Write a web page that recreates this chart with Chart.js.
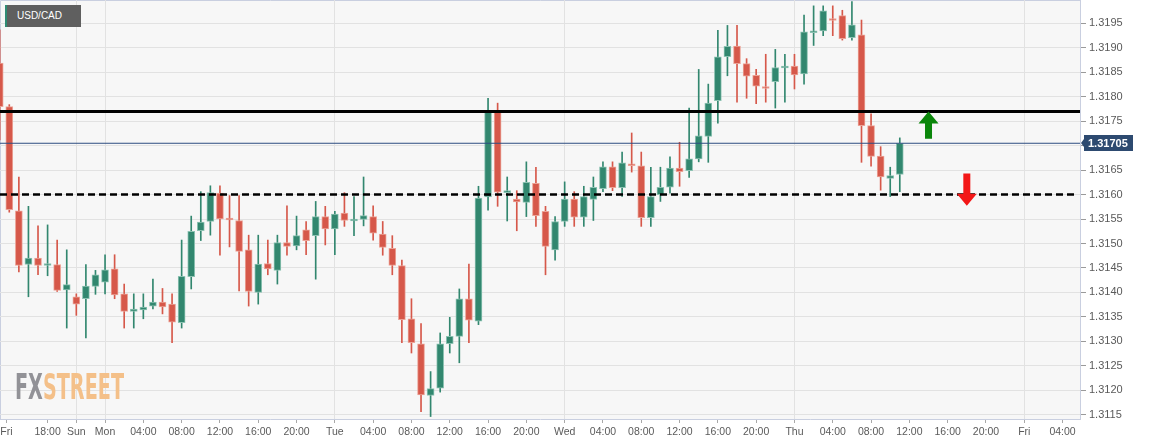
<!DOCTYPE html>
<html>
<head>
<meta charset="utf-8">
<script src="https://cdn.jsdelivr.net/npm/chart.js@4.4.0/dist/chart.umd.min.js"></script>
<style>
  body { margin: 0; background: #fff; }
  #wrap { position: relative; width: 1150px; height: 445px; }
  #badge {
    position: absolute; left: 5px; top: 5px; width: 76px; height: 22px;
    box-sizing: border-box; padding-left: 10px;
    background: #5f5f5f; border-left: 2px solid #2f8b74;
    color: #fff; font: 10px 'Liberation Sans', Arial, sans-serif; line-height: 22px;
  }
  #logo {
    position: absolute; left: 15px; top: 369px; white-space: nowrap;
    font: bold 36px 'DejaVu Sans Condensed', 'DejaVu Sans', sans-serif; line-height: 36px;
    transform-origin: left top; pointer-events: none;
  }
  #logo .fx { color: #929297; }
  #logo .st { color: #f4c089; }
</style>
</head>
<body>
<div id="wrap">
  <canvas id="myChart" width="1150" height="445"></canvas>
  <div id="badge">USD/CAD</div>
  <div id="logo"><span class="fx">FX</span><span class="st">STREET</span></div>
</div>
<script>
// hourly candles, Fri 13:00 -> Thu 11:00 (weekend gap removed)
const opens = [1.31869,1.31780,1.31567,1.31457,1.31470,1.31455,1.31457,1.31405,1.31391,1.31387,
  1.31412,1.31421,1.31448,1.31397,1.31361,1.31364,1.31372,1.31380,1.31376,1.31338,
  1.31432,1.31526,1.31545,1.31603,1.31551,1.31547,1.31487,1.31400,1.31459,1.31445,
  1.31502,1.31495,1.31528,1.31516,1.31555,1.31530,1.31562,1.31546,1.31549,1.31555,
  1.31519,1.31490,1.31455,1.31346,1.31295,1.31189,1.31204,1.31295,1.31310,1.31387,
  1.31341,1.31595,1.31770,1.31604,1.31591,1.31584,1.31623,1.31566,1.31487,1.31545,
  1.31591,1.31554,1.31590,1.31612,1.31657,1.31614,1.31663,1.31659,1.31553,1.31600,
  1.31615,1.31654,1.31649,1.31673,1.31719,1.31792,1.31882,1.31904,1.31868,1.31844,
  1.31821,1.31831,1.31859,1.31863,1.31847,1.31931,1.31935,1.31957,1.31966,1.31921,
  1.31927,1.31741,1.31679,1.31633,1.31641];
const highs = [1.31937,1.31784,1.31636,1.31576,1.31536,1.31538,1.31507,1.31487,1.31397,1.31457,
  1.31445,1.31477,1.31477,1.31417,1.31397,1.31397,1.31427,1.31408,1.31397,1.31507,
  1.31556,1.31606,1.31618,1.31618,1.31598,1.31598,1.31517,1.31517,1.31507,1.31517,
  1.31577,1.31556,1.31545,1.31586,1.31576,1.31566,1.31604,1.31596,1.31636,1.31577,
  1.31545,1.31516,1.31466,1.31387,1.31336,1.31238,1.31317,1.31349,1.31407,1.31458,
  1.31617,1.31797,1.31787,1.31636,1.31608,1.31667,1.31656,1.31576,1.31555,1.31626,
  1.31606,1.31617,1.31636,1.31667,1.31667,1.31687,1.31726,1.31687,1.31656,1.31656,
  1.31677,1.31707,1.31777,1.31856,1.31826,1.31936,1.31946,1.31946,1.31878,1.31856,
  1.31887,1.31897,1.31887,1.31887,1.31967,1.31986,1.31986,1.31986,1.31977,1.31995,
  1.31957,1.31765,1.31698,1.31656,1.31716];
const lows = [1.31712,1.31564,1.31442,1.31391,1.31436,1.31434,1.31402,1.31327,1.31353,1.31307,
  1.31396,1.31397,1.31387,1.31327,1.31327,1.31346,1.31366,1.31356,1.31297,1.31327,
  1.31407,1.31506,1.31517,1.31476,1.31493,1.31403,1.31372,1.31376,1.31436,1.31417,
  1.31476,1.31487,1.31477,1.31427,1.31497,1.31477,1.31535,1.31516,1.31536,1.31507,
  1.31476,1.31436,1.31297,1.31276,1.31156,1.31146,1.31196,1.31276,1.31256,1.31297,
  1.31334,1.31568,1.31576,1.31546,1.31526,1.31555,1.31535,1.31436,1.31466,1.31535,
  1.31535,1.31535,1.31547,1.31606,1.31608,1.31596,1.31646,1.31535,1.31535,1.31586,
  1.31603,1.31617,1.31635,1.31667,1.31666,1.31746,1.31843,1.31789,1.31797,1.31786,
  1.31789,1.31777,1.31789,1.31816,1.31826,1.31905,1.31925,1.31925,1.31916,1.31916,
  1.31666,1.31658,1.31609,1.31596,1.31606];
const closes = [1.31780,1.31569,1.31455,1.31470,1.31455,1.31459,1.31404,1.31416,1.31376,1.31413,
  1.31436,1.31446,1.31395,1.31361,1.31366,1.31370,1.31380,1.31370,1.31339,1.31433,
  1.31525,1.31544,1.31604,1.31550,1.31548,1.31484,1.31402,1.31458,1.31448,1.31502,
  1.31494,1.31516,1.31506,1.31555,1.31530,1.31560,1.31547,1.31549,1.31557,1.31521,
  1.31492,1.31455,1.31344,1.31297,1.31190,1.31203,1.31295,1.31310,1.31387,1.31343,
  1.31593,1.31770,1.31605,1.31606,1.31585,1.31625,1.31557,1.31494,1.31545,1.31591,
  1.31554,1.31596,1.31615,1.31657,1.31614,1.31665,1.31659,1.31553,1.31596,1.31615,
  1.31654,1.31647,1.31673,1.31720,1.31787,1.31882,1.31903,1.31868,1.31842,1.31822,
  1.31817,1.31860,1.31862,1.31845,1.31933,1.31933,1.31976,1.31956,1.31919,1.31947,
  1.31741,1.31678,1.31636,1.31639,1.31705];

const tickHours = [0.7, 5, 8, 11, 15, 19, 23, 27, 31, 35, 39, 43, 47, 51, 55,
  59, 63, 67, 71, 75, 79, 83, 87, 91, 95, 99, 103, 107, 111];
const tickLabels = ['Fri', '18:00', 'Sun', 'Mon', '04:00', '08:00', '12:00', '16:00', '20:00',
  'Tue', '04:00', '08:00', '12:00', '16:00', '20:00',
  'Wed', '04:00', '08:00', '12:00', '16:00', '20:00',
  'Thu', '04:00', '08:00', '12:00', '16:00', '20:00', 'Fri', '04:00'];
const dayHours = [8, 11, 35, 59, 83, 107];
const priceTicks = [1.3115, 1.3120, 1.3125, 1.3130, 1.3135, 1.3140, 1.3145, 1.3150, 1.3155,
  1.3160, 1.3165, 1.3170, 1.3175, 1.3180, 1.3185, 1.3190, 1.3195];

const resistance = 1.3177;
const support = 1.3160;
const lastPrice = 1.31705;
const upArrow = { hour: 97, from: 1.31714, to: 1.3177 };
const downArrow = { hour: 101, from: 1.31643, to: 1.31577 };

const X_MIN = 0.03, X_MAX = 112.82;
const Y_MIN = 1.31141, Y_MAX = 1.31998;

const UP = '#32876f', DOWN = '#d6584a';
const UP_EDGE = '#8cc2b2', DOWN_EDGE = '#eba397';

const up = closes.map((c, i) => c >= opens[i]);

const bodies = opens.map((o, i) => ({ x: i, y: [o, closes[i]] }));
const wicks = lows.map((l, i) => ({ x: i, y: [l, highs[i]] }));
const level = (v, x2) => [{ x: X_MIN, y: v }, { x: x2 || X_MAX, y: v }];

const frame = {
  id: 'frame',
  beforeDraw(chart) {
    const { ctx, chartArea: a } = chart;
    ctx.save();
    ctx.fillStyle = '#f7f7f7';
    ctx.fillRect(a.left, a.top, a.right - a.left, a.bottom - a.top);
    ctx.strokeStyle = '#c9cfe0';
    ctx.lineWidth = 1;
    ctx.beginPath();
    ctx.moveTo(a.left + 0.5, a.bottom);
    ctx.lineTo(a.left + 0.5, a.top + 0.5);
    ctx.lineTo(a.right, a.top + 0.5);
    ctx.stroke();
    ctx.restore();
  },
  afterDraw(chart) {
    const { ctx, chartArea: a, scales: { x, y } } = chart;
    ctx.save();
    // arrows
    [[upArrow, '#0a860a'], [downArrow, '#f31717']].forEach(([ar, col]) => {
      const px = x.getPixelForValue(ar.hour);
      const y0 = y.getPixelForValue(ar.from);
      const y1 = y.getPixelForValue(ar.to);
      const dir = y1 < y0 ? -1 : 1;
      const yb = y1 - dir * 12;
      ctx.fillStyle = col;
      ctx.beginPath();
      ctx.moveTo(px - 3.5, y0);
      ctx.lineTo(px - 3.5, yb);
      ctx.lineTo(px - 10, yb);
      ctx.lineTo(px, y1);
      ctx.lineTo(px + 10, yb);
      ctx.lineTo(px + 3.5, yb);
      ctx.lineTo(px + 3.5, y0);
      ctx.closePath();
      ctx.fill();
    });
    // last price tag
    const py = Math.round(y.getPixelForValue(lastPrice));
    const bx = a.right + 4;
    ctx.fillStyle = '#2d4a70';
    ctx.beginPath();
    ctx.moveTo(a.right + 1, py);
    ctx.lineTo(bx, py - 4);
    ctx.lineTo(bx, py + 4);
    ctx.closePath();
    ctx.fill();
    ctx.fillRect(bx, py - 8, 49, 16);
    ctx.fillStyle = '#fff';
    ctx.font = "bold 11px 'Liberation Sans', Arial, sans-serif";
    ctx.textBaseline = 'middle';
    ctx.fillText(lastPrice.toFixed(5), bx + 4, py + 0.5);
    ctx.restore();
  }
};

Chart.defaults.font.family = "'Liberation Sans', Arial, sans-serif";

new Chart(document.getElementById('myChart').getContext('2d'), {
  type: 'bar',
  data: {
    datasets: [
      {
        type: 'line', data: level(resistance), borderColor: '#000', borderWidth: 3,
        pointRadius: 0, order: 0
      },
      {
        type: 'line', data: level(support, 112.3), borderColor: '#000', borderWidth: 2.5,
        borderDash: [7, 4], pointRadius: 0, order: 0
      },
      {
        type: 'line', data: level(lastPrice), borderColor: '#2d4c80', borderWidth: 1,
        pointRadius: 0, order: 0
      },
      {
        data: bodies,
        backgroundColor: up.map(u => u ? UP : DOWN),
        borderColor: up.map(u => u ? UP_EDGE : DOWN_EDGE),
        borderWidth: 1, borderSkipped: false,
        barThickness: 7, minBarLength: 2, grouped: false, order: 1
      },
      {
        data: wicks,
        backgroundColor: up.map(u => u ? UP : DOWN),
        borderWidth: 0, barThickness: 1, grouped: false, order: 2
      }
    ]
  },
  options: {
    responsive: false,
    animation: false,
    layout: { padding: 0 },
    plugins: { legend: { display: false }, tooltip: { enabled: false } },
    scales: {
      x: {
        type: 'linear', min: X_MIN, max: X_MAX, offset: false,
        afterBuildTicks: s => { s.ticks = tickHours.map(v => ({ value: v })); },
        afterFit: s => { s.height = 26; s.paddingLeft = 0; s.paddingRight = 0; },
        ticks: {
          autoSkip: false, maxRotation: 0, padding: 3, color: '#5a5a5a',
          font: { size: 10.5 },
          callback: (v, i) => tickLabels[i]
        },
        grid: {
          offset: false, tickLength: 4, tickColor: '#a8a8a8',
          color: c => (c.tick && dayHours.includes(c.tick.value)) ? '#e2e2e2' : 'rgba(0,0,0,0)'
        },
        border: { color: '#c9cfe0', width: 1 }
      },
      y: {
        position: 'right', min: Y_MIN, max: Y_MAX, beginAtZero: false,
        afterBuildTicks: s => { s.ticks = priceTicks.map(v => ({ value: v })); },
        afterFit: s => { s.width = 70; s.paddingTop = 0; s.paddingBottom = 0; },
        ticks: {
          padding: 3, color: '#5a5a5a', font: { size: 11 },
          callback: v => v.toFixed(4)
        },
        grid: { color: '#e2e2e2', tickLength: 6, tickColor: '#9a9a9a' },
        border: { color: '#c9cfe0', width: 1 }
      }
    }
  },
  plugins: [frame]
});

// squeeze the watermark to its width in the picture
const logo = document.getElementById('logo');
const w = logo.getBoundingClientRect().width;
logo.style.transform = 'scaleX(' + (109 / w) + ')';
</script>
</body>
</html>
